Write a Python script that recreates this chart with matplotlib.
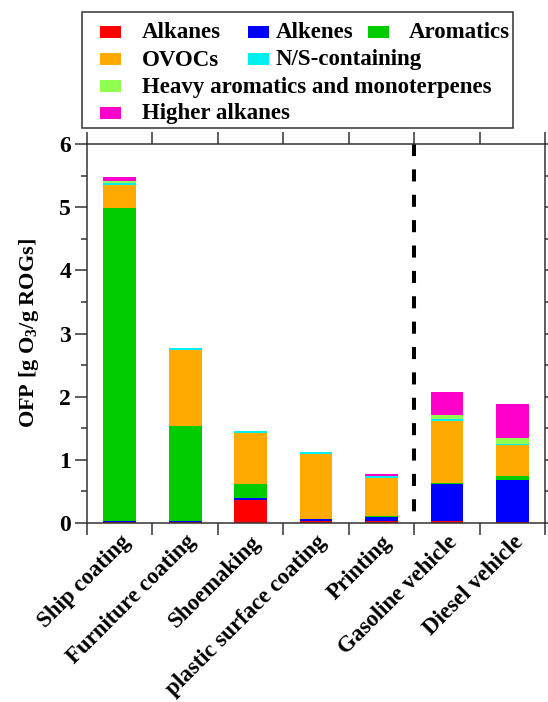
import matplotlib
matplotlib.use("Agg")
import matplotlib.pyplot as plt
import numpy as np
from matplotlib.patches import Rectangle

categories = ["Ship coating", "Furniture coating", "Shoemaking",
              "plastic surface coating", "Printing", "Gasoline vehicle",
              "Diesel vehicle"]
alkanes = [0.02, 0.02, 0.37, 0.03, 0.03, 0.03, 0.01]
alkenes = [0.01, 0.01, 0.03, 0.03, 0.06, 0.59, 0.67]
aromatics = [4.96, 1.50, 0.22, 0.01, 0.02, 0.02, 0.07]
ovocs = [0.36, 1.21, 0.81, 1.03, 0.61, 0.98, 0.48]
ns_containing = [0.04, 0.03, 0.03, 0.02, 0.02, 0.02, 0.02]
heavy_arom = [0.03, 0.00, 0.00, 0.00, 0.01, 0.07, 0.09]
higher_alkanes = [0.06, 0.00, 0.00, 0.00, 0.03, 0.37, 0.54]

series_names = ["Alkanes", "Alkenes", "Aromatics", "OVOCs", "N/S-containing",
                "Heavy aromatics and monoterpenes", "Higher alkanes"]
series_vals = [alkanes, alkenes, aromatics, ovocs, ns_containing,
               heavy_arom, higher_alkanes]
colors = ["#FF0000", "#0000FF", "#00CC00", "#FFAA00", "#00F0F0",
          "#90FF50", "#FF00CC"]

plt.rcParams['font.family'] = ['Liberation Serif', 'DejaVu Serif']
plt.rcParams['font.weight'] = 'bold'
plt.rcParams['mathtext.fontset'] = 'custom'
plt.rcParams['mathtext.rm'] = 'Liberation Serif:bold'
plt.rcParams['mathtext.default'] = 'rm'

W, H = 548, 702
fig = plt.figure(figsize=(W / 100, H / 100), dpi=100)
ax = fig.add_axes([87 / W, 1 - 523 / H, (545 - 87) / W, (523 - 144) / H])

x = np.arange(len(categories))
bottom = np.zeros(len(categories))
for vals, c in zip(series_vals, colors):
    ax.bar(x, vals, width=0.5, bottom=bottom, color=c, edgecolor='none')
    bottom += np.array(vals)

ax.set_xlim(-0.5, len(categories) - 0.5)
ax.set_ylim(0, 6)
ax.plot([4.5, 4.5], [6, 0], color='black', lw=2.9, ls=(0, (3.0, 3.3)),
        solid_capstyle='butt', dash_capstyle='butt', clip_on=False)

spine_c = '#333333'
for s in ax.spines.values():
    s.set_color(spine_c)
    s.set_linewidth(1.1)

ax.set_yticks(np.arange(0, 7, 1))
ax.set_yticks(np.arange(0, 6.01, 0.5), minor=True)
ax.set_xticks(x)
ax.set_xticks(np.arange(-0.5, len(categories), 1), minor=True)
ax.tick_params(axis='x', which='major', length=0, pad=6)
ax.tick_params(axis='x', which='minor', length=8.5, width=1.1, color=spine_c,
               direction='out', top=True, bottom=True)
ax.tick_params(axis='y', which='major', length=8.5, width=1.1, color=spine_c,
               direction='out', left=True, right=True, labelsize=17, pad=3)
ax.tick_params(axis='y', which='minor', length=4.3, width=1.1, color=spine_c,
               direction='out', left=True, right=True)
ax.set_xticklabels(categories, rotation=45, ha='right', rotation_mode='anchor',
                   fontsize=16.5, fontweight='bold')
for lab in ax.get_yticklabels():
    lab.set_fontweight('bold')
ax.set_ylabel("OFP [g O$_3$/g ROGs]", fontsize=16, fontweight='bold', labelpad=13)

# legend box (manual layout)
def fx(px):
    return px / W

def fy(py):
    return 1 - py / H

fig.patches.append(Rectangle((fx(82), fy(128)), fx(513) - fx(82), fy(12) - fy(128),
                             transform=fig.transFigure, fill=False,
                             edgecolor='#333333', lw=1.1))
layout = [(0, 100, 142, 32), (1, 248, 276, 32), (2, 368, 409, 32),
          (3, 100, 142, 59), (4, 248, 276, 59),
          (5, 100, 142, 86), (6, 100, 142, 113)]
for i, sx, tx, cy in layout:
    fig.patches.append(Rectangle((fx(sx), fy(cy + 5.5)), fx(21), 11 / H,
                                 transform=fig.transFigure,
                                 facecolor=colors[i], edgecolor='none'))
    fig.text(fx(tx), fy(cy + 6.5), series_names[i], fontsize=16.5,
             fontweight='bold', va='baseline', ha='left')

fig.savefig("out.png", dpi=100)
